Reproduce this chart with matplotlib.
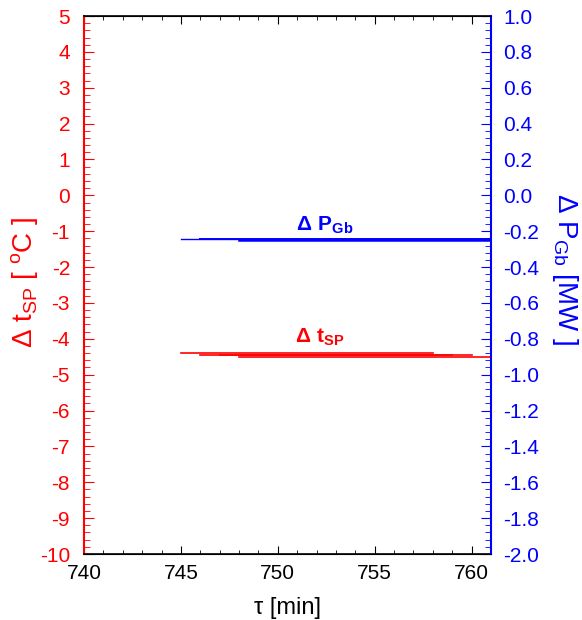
import matplotlib
matplotlib.use('Agg')
import matplotlib.pyplot as plt
from matplotlib.ticker import MultipleLocator, FormatStrFormatter

plt.rcParams['font.family'] = ['Liberation Sans', 'DejaVu Sans']
plt.rcParams['mathtext.fontset'] = 'custom'
plt.rcParams['mathtext.rm'] = 'Liberation Sans'
plt.rcParams['mathtext.bf'] = 'Liberation Sans:bold'
plt.rcParams['axes.unicode_minus'] = False

# horizontal step segments (start, end, value)
t_start = [745, 746, 747, 748]
t_end = [758, 759, 760, 761]
dt_sp = [-4.40, -4.44, -4.46, -4.52]

p_start = [745, 746, 748]
p_end = [760, 761, 761]
dp_gb = [-0.243, -0.246, -0.249]

fig = plt.figure(figsize=(5.82, 6.2), dpi=100)
ax = fig.add_axes([84 / 582, 66 / 620, 407 / 582, 538 / 620])
ax2 = ax.twinx()

red = '#ff0000'
blue = '#0000ff'

for s, e, v in zip(t_start, t_end, dt_sp):
    ax.plot([s, e], [v, v], color=red, lw=1.2)
for s, e, v, w in zip(p_start, p_end, dp_gb, [1.0, 1.4, 1.8]):
    ax2.plot([s, e], [v, v], color=blue, lw=w)

ax.set_xlim(740, 761)
ax.set_ylim(-10, 5)
ax2.set_ylim(-2, 1)

ax.xaxis.set_major_locator(MultipleLocator(5))
ax.xaxis.set_minor_locator(MultipleLocator(1))
ax.yaxis.set_major_locator(MultipleLocator(1))
ax.yaxis.set_minor_locator(MultipleLocator(0.2))
ax2.yaxis.set_major_locator(MultipleLocator(0.2))
ax2.yaxis.set_minor_locator(MultipleLocator(0.04))
ax2.yaxis.set_major_formatter(FormatStrFormatter('%.1f'))

ax.tick_params(axis='x', which='both', direction='in', top=True, colors='black', labelsize=15, pad=7)
ax.tick_params(axis='x', which='major', length=6)
ax.tick_params(axis='x', which='minor', length=3)
ax.tick_params(axis='y', which='both', direction='in', colors=red, labelsize=15, right=False, pad=10)
ax.tick_params(axis='y', which='major', length=7)
ax.tick_params(axis='y', which='minor', length=4)
ax2.tick_params(axis='y', which='both', direction='in', colors=blue, labelsize=15, pad=9)
ax2.tick_params(axis='y', which='major', length=7)
ax2.tick_params(axis='y', which='minor', length=4)

ax.spines['left'].set_color(red)
ax.spines['left'].set_linewidth(1.5)
ax2.spines['left'].set_visible(False)
ax2.spines['right'].set_color(blue)
ax2.spines['right'].set_linewidth(1.5)
ax.spines['right'].set_visible(False)
ax.spines['top'].set_linewidth(1.2)
ax.spines['bottom'].set_linewidth(1.2)

ax.set_xlabel('τ [min]', fontsize=17, labelpad=10)
ax.set_ylabel(r'$\Delta$ t$_{\rm SP}$ [ $^{\rm o}$C ]', fontsize=20, color=red)
ax.yaxis.set_label_coords(-0.105, 0.505)
ax2.set_ylabel(r'$\Delta$ P$_{\rm Gb}$ [MW ]', fontsize=20, color=blue, rotation=-90, va='center')
ax2.yaxis.set_label_coords(1.183, 0.53)

ax.text(752.4, -0.85, r'$\mathbf{\Delta\ P_{Gb}}$', color=blue, fontsize=15,
        ha='center', va='center')
ax.text(752.2, -3.95, r'$\mathbf{\Delta\ t_{SP}}$', color=red, fontsize=15,
        ha='center', va='center')

fig.savefig('out.png', dpi=100)
